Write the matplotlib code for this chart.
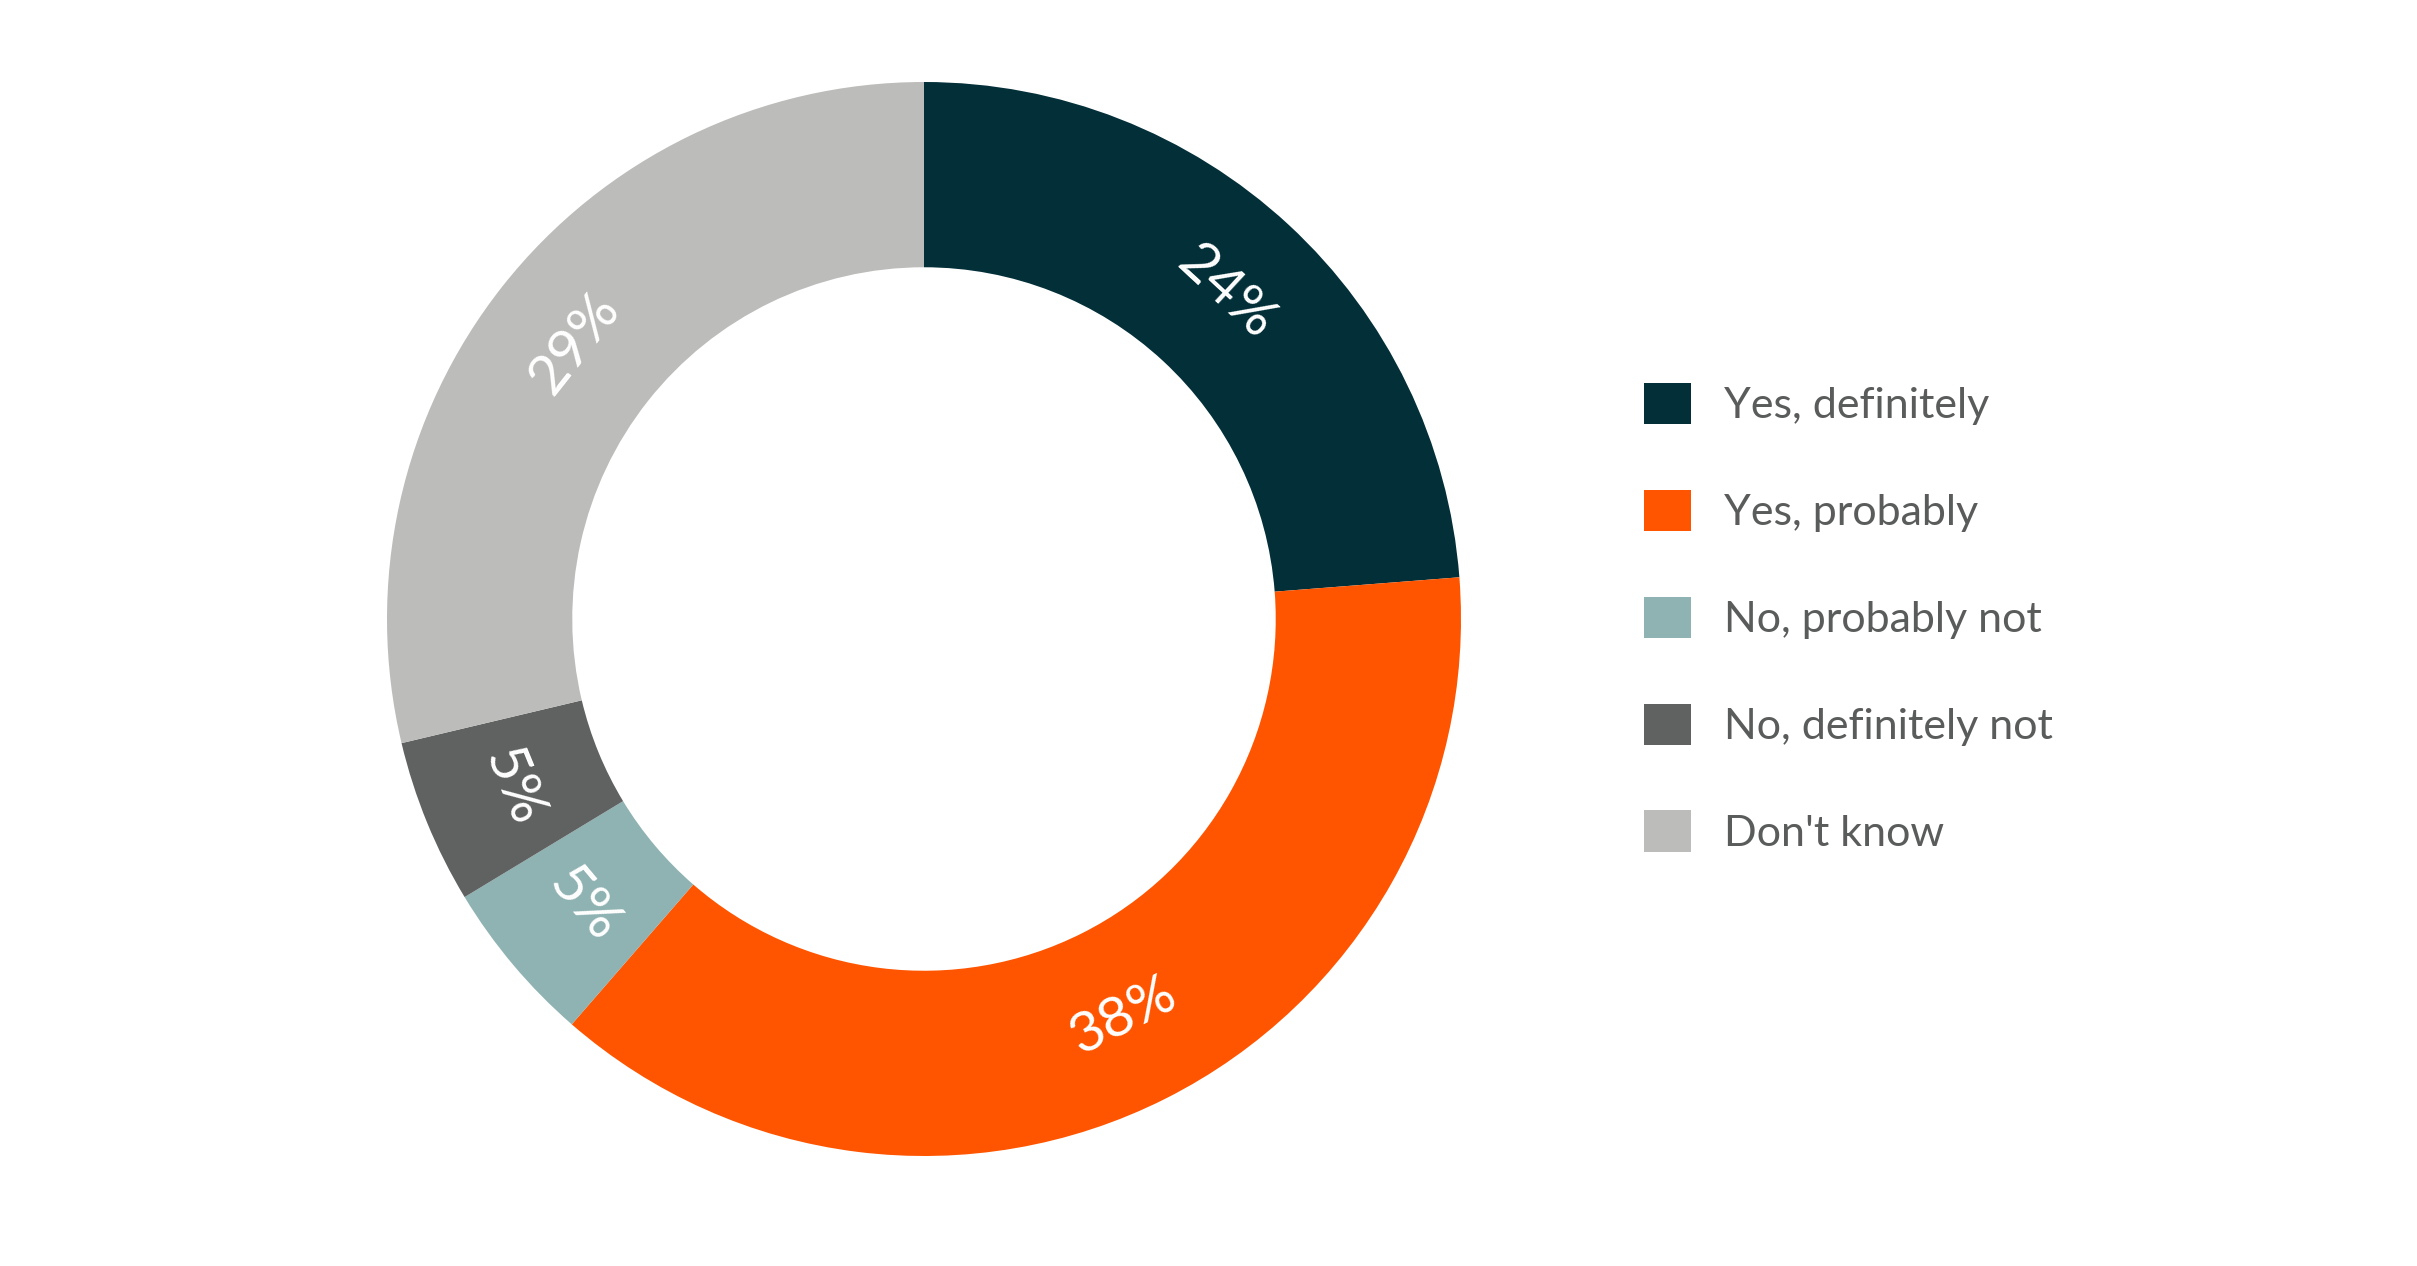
import numpy as np
import matplotlib
matplotlib.use('Agg')
import matplotlib.pyplot as plt
from matplotlib.patches import Patch

# data
categories = ["Yes, definitely", "Yes, probably", "No, probably not", "No, definitely not", "Don't know"]
values = [24, 38, 5, 5, 29]
pct_labels = ["24%", "38%", "5%", "5%", "29%"]
colors = ['#022f38', '#ff5500', '#8fb2b2', '#606261', '#bcbdba']

plt.rcParams['font.family'] = ['Lato', 'DejaVu Sans']

fig = plt.figure(figsize=(24.17, 12.66), dpi=100)
W, H = 2417, 1266
cx, cy, R = 924, 619, 537
ax = fig.add_axes([(cx - R) / W, (H - cy - R) / H, 2 * R / W, 2 * R / H])

inner = 0.655
wedges, _ = ax.pie(values, colors=colors, startangle=90, counterclock=False,
                   radius=1.0, wedgeprops=dict(width=1 - inner, linewidth=0))

r_lab = (1 + inner) / 2
for w, lab in zip(wedges, pct_labels):
    mid = (w.theta1 + w.theta2) / 2.0
    x = r_lab * np.cos(np.radians(mid))
    y = r_lab * np.sin(np.radians(mid))
    rot = mid - 90
    rot = (rot + 180) % 360 - 180
    if rot > 90:
        rot -= 180
    elif rot < -90:
        rot += 180
    ax.text(x, y, lab, color='white', fontsize=41, ha='center', va='center',
            rotation=rot, rotation_mode='anchor')

ax.set_xlim(-1, 1)
ax.set_ylim(-1, 1)
ax.set_aspect('equal')
ax.axis('off')

handles = [Patch(facecolor=c, edgecolor='none') for c in colors]
leg = fig.legend(handles, categories, loc='center left', bbox_to_anchor=(0.673, 0.512),
                 frameon=False, fontsize=31, handlelength=1.1, handleheight=1.1,
                 handletextpad=0.75, labelspacing=1.5, borderaxespad=0)
for t in leg.get_texts():
    t.set_color('#5a5c5b')

fig.savefig('out.png', dpi=100, facecolor='white')
